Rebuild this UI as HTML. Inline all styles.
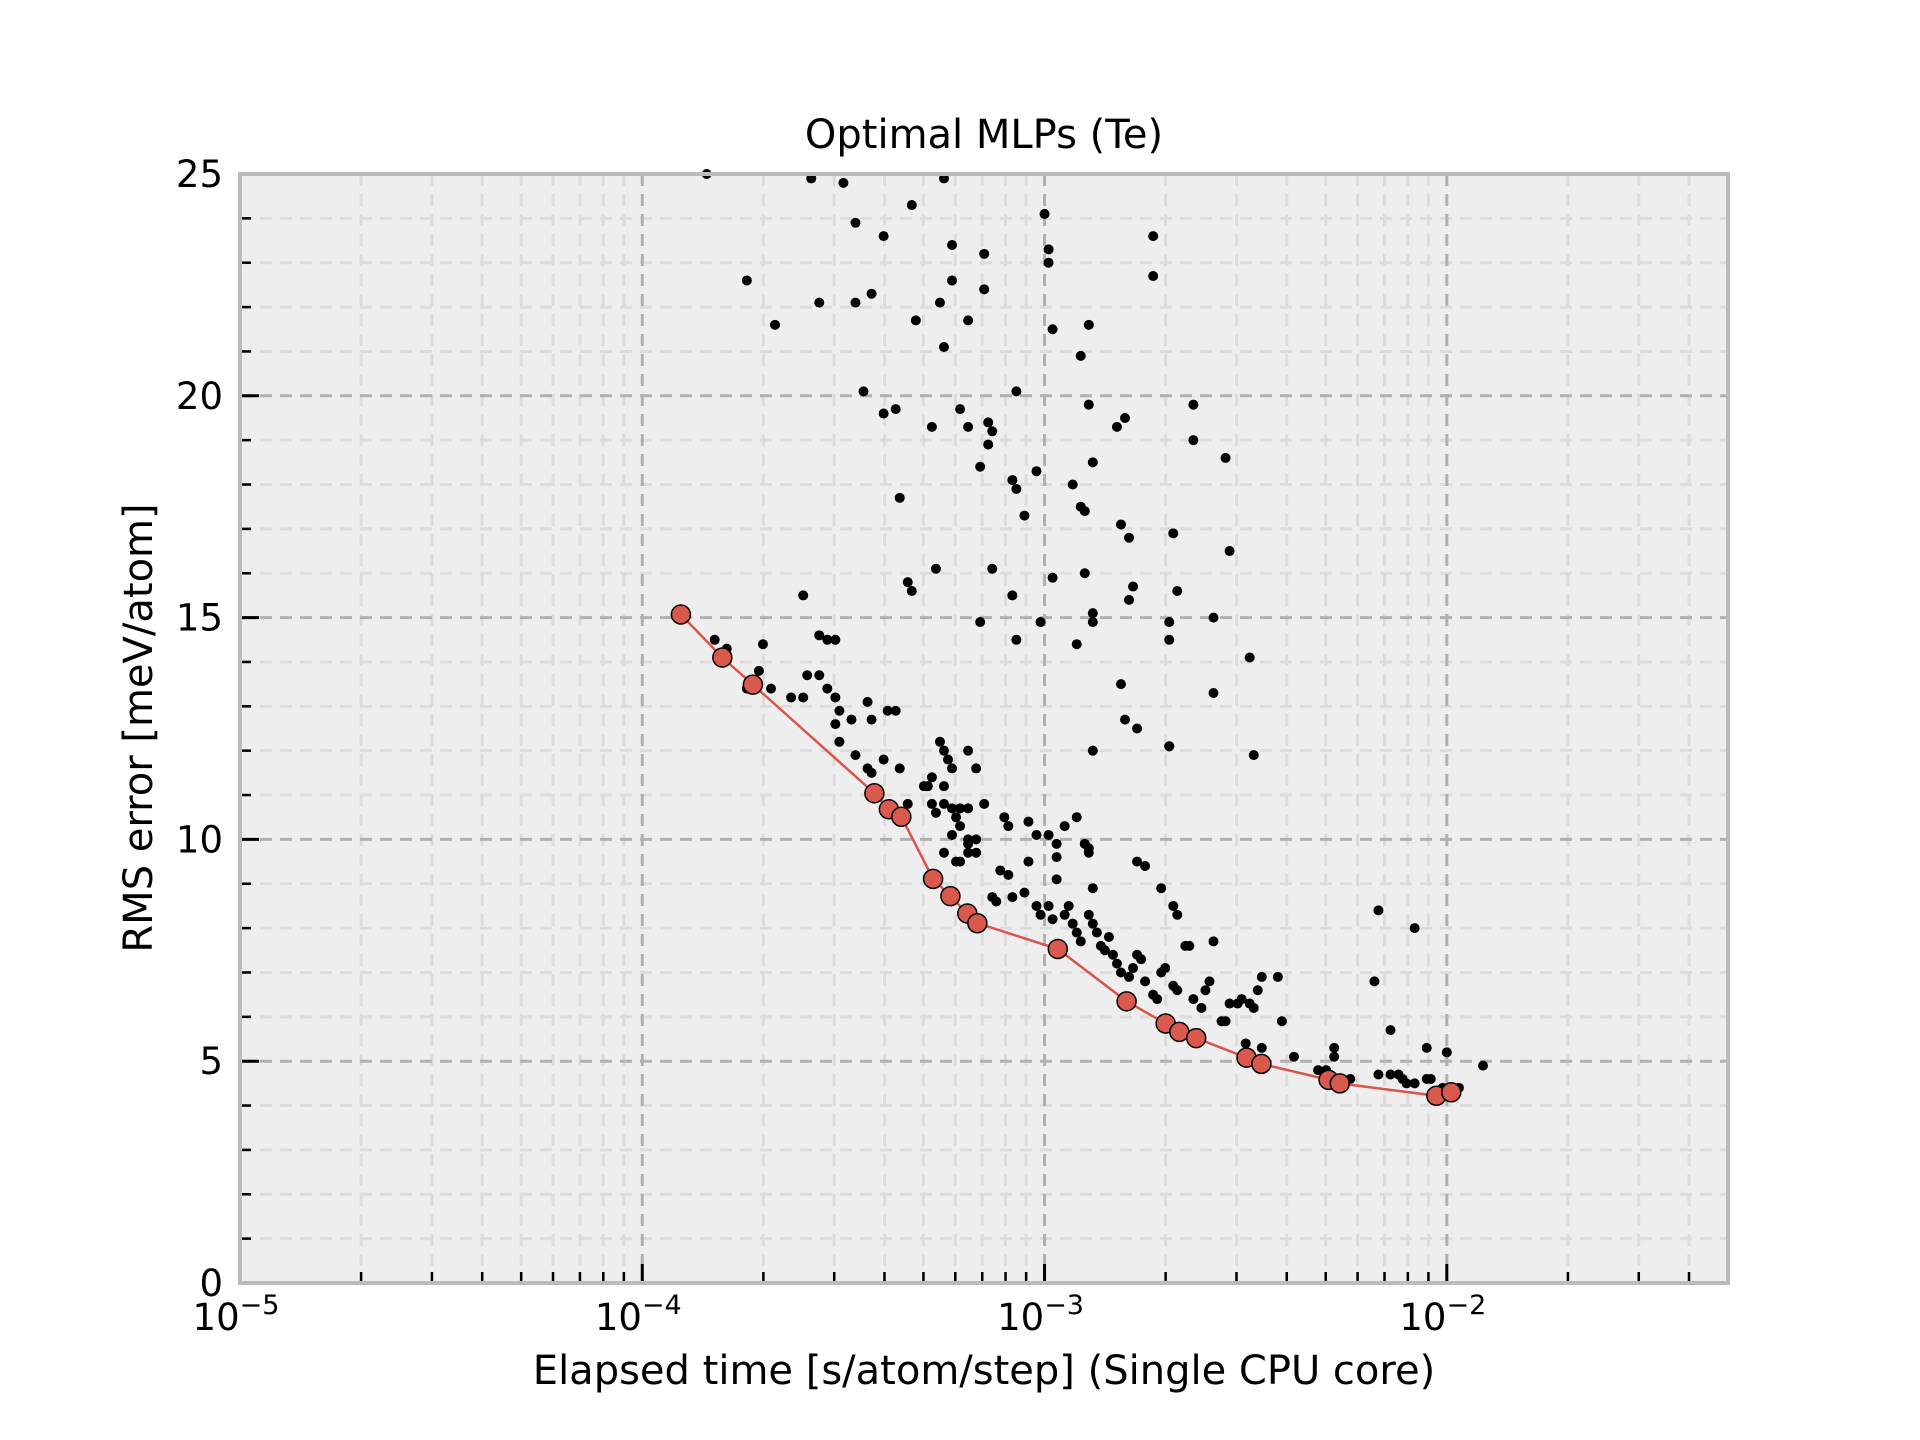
<!DOCTYPE html>
<html><head><meta charset="utf-8"><style>
html,body{margin:0;padding:0;background:#fff;}
svg{display:block;font-family:"DejaVu Sans","Liberation Sans",sans-serif;}
</style></head><body>
<svg id="chart" width="1920" height="1440" viewBox="0 0 1920 1440" xmlns="http://www.w3.org/2000/svg">
<rect x="240" y="174" width="1488" height="1109" fill="#eeeeee"/>
<g id="grid"></g>
<g id="ticks"></g>
<g id="marks"></g>
<rect x="240" y="174" width="1488" height="1109" fill="none" stroke="#bbbbbb" stroke-width="4"/>
<text x="984" y="148" font-size="40" text-anchor="middle">Optimal MLPs (Te)</text>
<text x="984" y="1384" font-size="40" text-anchor="middle">Elapsed time [s/atom/step] (Single CPU core)</text>
<text transform="translate(152,728) rotate(-90)" font-size="40" text-anchor="middle">RMS error [meV/atom]</text>
<g id="labels"></g>
</svg>
<script>
// data: x as log10(time in s), y as RMS error in meV/atom
const xTickExps = [-5, -4, -3, -2];
const yTickVals = [0, 5, 10, 15, 20, 25];
const paretoTimeExp = [-3.904,-3.801,-3.725,-3.423,-3.387,-3.356,-3.277,-3.234,-3.192,-3.167,-2.967,-2.796,-2.699,-2.665,-2.623,-2.498,-2.461,-2.294,-2.266,-2.026,-1.989];
const paretoErr = [15.07,14.10,13.49,11.04,10.68,10.51,9.11,8.72,8.33,8.11,7.53,6.35,5.85,5.66,5.52,5.08,4.94,4.58,4.50,4.22,4.30];
const modelTimeExp = [-3.84,-3.58,-3.50,-3.25,-3.47,-3.33,-3.40,-3.74,-3.56,-3.47,-3.43,-3.67,-3.23,-3.15,-3.23,-3.26,-3.15,-3.32,-3.19,-3.25,-3.00,-2.99,-2.99,-2.98,-2.89,-2.91,-2.73,-2.73,-3.45,-3.40,-3.37,-3.28,-3.21,-3.14,-3.19,-3.13,-3.14,-3.16,-3.02,-3.07,-2.89,-2.93,-2.88,-2.82,-2.80,-2.63,-2.63,-2.55,-3.36,-3.08,-3.07,-3.05,-2.91,-2.90,-2.81,-2.79,-2.68,-2.54,-3.34,-3.33,-3.27,-3.13,-3.16,-3.08,-3.07,-3.01,-2.98,-2.90,-2.88,-2.88,-2.92,-2.79,-2.78,-2.67,-2.69,-2.69,-2.58,-2.58,-2.49,-3.60,-3.56,-3.54,-3.52,-3.82,-3.79,-3.70,-3.71,-3.74,-3.68,-3.63,-3.59,-3.56,-3.60,-3.54,-3.52,-3.51,-3.52,-3.51,-3.48,-3.44,-3.43,-3.39,-3.37,-3.47,-3.43,-3.40,-3.44,-3.36,-3.34,-3.26,-3.25,-3.24,-3.23,-3.19,-3.17,-3.30,-3.28,-3.29,-3.25,-3.28,-3.27,-3.25,-3.23,-3.21,-3.19,-3.22,-3.21,-3.23,-3.19,-3.17,-3.19,-3.19,-3.22,-3.25,-3.21,-3.17,-3.15,-3.10,-3.04,-3.09,-3.02,-2.99,-2.97,-2.95,-2.92,-2.90,-2.89,-2.89,-2.97,-3.04,-3.11,-3.09,-2.97,-2.88,-2.77,-2.75,-2.71,-2.67,-2.68,-2.80,-2.77,-2.81,-2.88,-2.69,-2.69,-2.48,-3.13,-3.12,-3.08,-3.05,-3.02,-3.01,-2.99,-2.98,-2.95,-2.94,-2.93,-2.92,-2.91,-2.89,-2.88,-2.87,-2.86,-2.85,-2.84,-2.83,-2.82,-2.81,-2.79,-2.78,-2.77,-2.76,-2.75,-2.73,-2.72,-2.71,-2.70,-2.68,-2.67,-2.65,-2.64,-2.63,-2.61,-2.60,-2.59,-2.58,-2.56,-2.55,-2.54,-2.52,-2.51,-2.49,-2.48,-2.47,-2.46,-2.42,-2.41,-2.38,-2.50,-2.46,-2.28,-2.28,-2.32,-2.30,-2.24,-2.17,-2.14,-2.17,-2.18,-2.08,-2.14,-2.12,-2.10,-2.11,-2.05,-2.04,-2.01,-2.00,-1.97,-1.91,-2.05,-2.08];
const modelErr = [25.0,24.9,24.8,24.9,23.9,24.3,23.6,22.6,22.1,22.1,22.3,21.6,23.4,23.2,22.6,22.1,22.4,21.7,21.7,21.1,24.1,23.3,23.0,21.5,21.6,20.9,23.6,22.7,20.1,19.6,19.7,19.3,19.7,19.4,19.3,19.2,18.9,18.4,18.3,20.1,19.8,18.0,18.5,19.3,19.5,19.8,19.0,18.6,17.7,18.1,17.9,17.3,17.5,17.4,17.1,16.8,16.9,16.5,15.8,15.6,16.1,16.1,14.9,15.5,14.5,14.9,15.9,16.0,15.1,14.9,14.4,15.4,15.7,15.6,14.9,14.5,15.0,13.3,14.1,15.5,14.6,14.5,14.5,14.5,14.3,14.4,13.8,13.4,13.4,13.2,13.7,13.7,13.2,13.4,13.2,12.9,12.6,12.2,12.7,13.1,12.7,12.9,12.9,11.9,11.5,11.8,11.6,11.6,10.8,12.2,12.0,11.8,11.6,12.0,11.6,11.2,11.4,11.2,11.2,10.8,10.6,10.8,10.7,10.7,10.7,10.5,10.3,10.1,10.0,10.0,9.9,9.7,9.5,9.7,9.5,9.7,10.8,10.5,10.4,10.3,10.1,10.1,9.9,10.3,10.5,9.9,9.8,9.7,9.6,9.5,9.3,9.2,9.1,8.9,9.5,9.4,8.9,8.3,8.5,12.7,12.5,13.5,12.0,12.1,12.1,11.9,8.7,8.6,8.7,8.8,8.5,8.3,8.5,8.2,8.3,8.5,8.1,7.9,7.7,8.3,8.1,7.9,7.6,7.5,7.8,7.4,7.2,7.0,6.9,7.1,7.4,7.3,6.8,6.5,6.4,7.0,7.1,6.7,6.6,7.6,7.6,6.4,6.2,6.6,6.8,7.7,5.9,5.9,6.3,6.3,6.4,6.3,6.2,6.6,6.9,6.9,5.9,5.1,5.4,5.3,5.3,5.1,4.8,4.8,4.6,4.7,5.7,8.4,6.8,8.0,4.7,4.7,4.5,4.6,4.6,4.6,4.4,5.2,4.4,4.9,5.3,4.5];

const X0 = 240, X1 = 1728, Y0 = 174, Y1 = 1283;
const XMIN = -5, XMAX = Math.log10(0.05), YMIN = 0, YMAX = 25;
function xScale(e){ return X0 + (e - XMIN) / (XMAX - XMIN) * (X1 - X0); }
function yScale(v){ return Y1 - (v - YMIN) / (YMAX - YMIN) * (Y1 - Y0); }
const NS = 'http://www.w3.org/2000/svg';
function mk(tag, attrs, parent){ const el = document.createElementNS(NS, tag); for (const k in attrs) el.setAttribute(k, attrs[k]); parent.appendChild(el); return el; }
const grid = document.getElementById('grid'), ticks = document.getElementById('ticks'), marks = document.getElementById('marks'), labels = document.getElementById('labels');

for (let d = -5; d <= -2; d++) for (let m = 2; m <= 9; m++) {
  const e = d + Math.log10(m); if (e > XMAX) break;
  const x = xScale(e);
  const g = mk('line', {x1:x, x2:x, y1:Y0, y2:Y1, stroke:'#dcdcdc', 'stroke-width':3, 'stroke-dasharray':'12,8'}, grid);
  
  
  const t = mk('line', {x1:x, x2:x, y1:Y1, y2:Y1-11, stroke:'#000', 'stroke-width':2.5}, ticks);
  
  
}
for (let v = 1; v < 25; v++) { if (v % 5 === 0) continue;
  const y = yScale(v);
  const g = mk('line', {x1:X0, x2:X1, y1:y, y2:y, stroke:'#dcdcdc', 'stroke-width':3, 'stroke-dasharray':'12,8'}, grid);
  
  
  const t = mk('line', {x1:X0, x2:X0+11, y1:y, y2:y, stroke:'#000', 'stroke-width':2.5}, ticks);
  
  
}
xTickExps.forEach(e => {
  const x = xScale(e);
  const g = mk('line', {x1:x, x2:x, y1:Y0, y2:Y1, stroke:'#b0b0b0', 'stroke-width':3, 'stroke-dasharray':'12,8'}, grid);
  
  
  const t = mk('line', {x1:x, x2:x, y1:Y1, y2:Y1-19, stroke:'#000', 'stroke-width':3}, ticks);
  
  
  const tx = mk('text', {x:x-4, y:1330, 'font-size':37, 'text-anchor':'middle'}, labels);
  
  
  tx.innerHTML = '10<tspan dy="-16" font-size="27">\u2212' + Math.abs(e) + '</tspan>';
});
yTickVals.forEach(v => {
  const y = yScale(v);
  const g = mk('line', {x1:X0, x2:X1, y1:y, y2:y, stroke:'#b0b0b0', 'stroke-width':3, 'stroke-dasharray':'12,8'}, grid);
  
  
  const t = mk('line', {x1:X0, x2:X0+19, y1:y, y2:y, stroke:'#000', 'stroke-width':3}, ticks);
  
  
  const tx = mk('text', {x:223, y:y+13, 'font-size':37, 'text-anchor':'end'}, labels);
  
  
  tx.textContent = v;
});
modelTimeExp.forEach((e, i) => {
  const c = mk('circle', {cx:xScale(e), cy:yScale(modelErr[i]), r:5, fill:'#000'}, marks);
  
  
});
const pts = paretoTimeExp.map((e, i) => xScale(e).toFixed(1) + ',' + yScale(paretoErr[i]).toFixed(1)).join(' ');
const line = mk('polyline', {points:pts, fill:'none', stroke:'#d9544a', 'stroke-width':2.5}, marks);


paretoTimeExp.forEach((e, i) => {
  const c = mk('circle', {cx:xScale(e), cy:yScale(paretoErr[i]), r:9.5, fill:'#d9594c', stroke:'#000', 'stroke-width':1.5}, marks);
  
  
});
</script>
</body></html>
